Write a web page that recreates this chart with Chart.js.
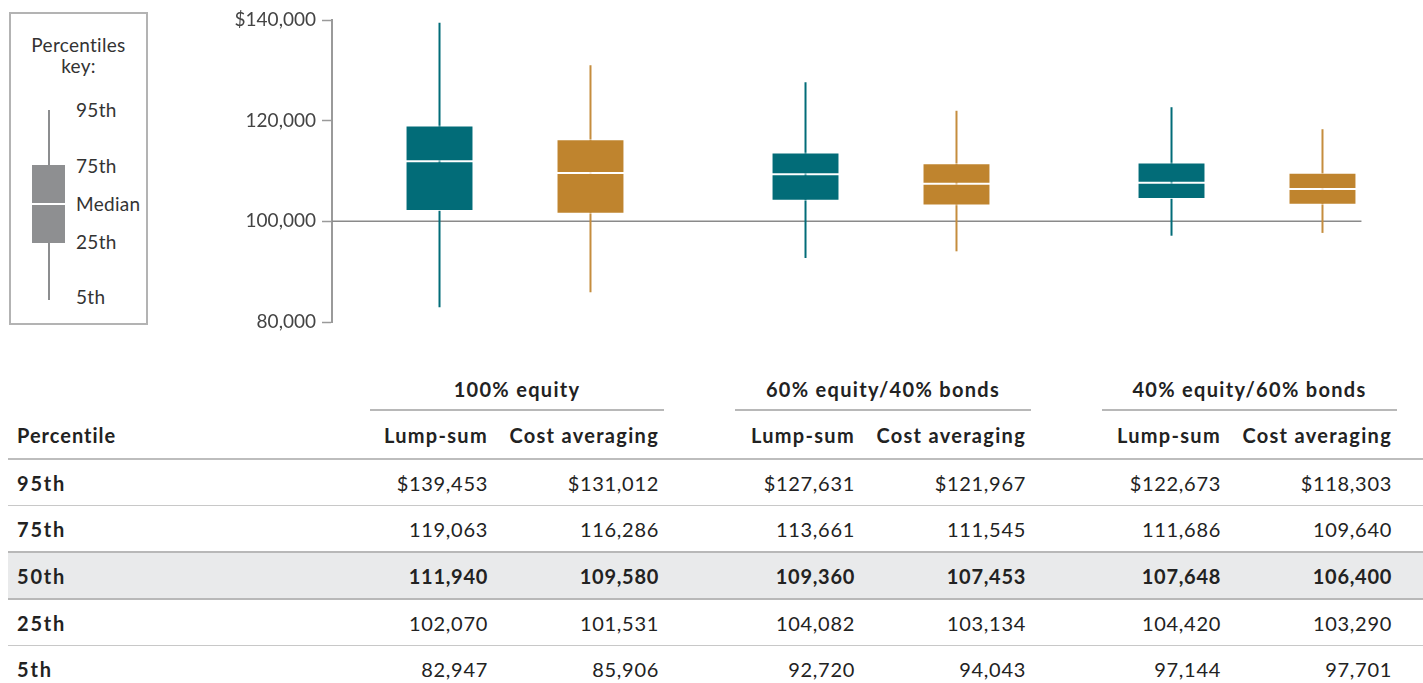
<!DOCTYPE html>
<html>
<head>
<meta charset="utf-8">
<script src="https://cdn.jsdelivr.net/npm/chart.js@4.4.1/dist/chart.umd.min.js"></script>
<style>
  body { margin: 0; width: 1423px; height: 683px; overflow: hidden; background: #fff; font-family: Lato, "Noto Sans", sans-serif; color: #222; position: relative; }
  #key { position: absolute; left: 9px; top: 12px; width: 139px; height: 313px; box-sizing: border-box; border: 2px solid #b3b3b3; }
  #key .title { position: absolute; left: 0; right: 0; top: 20px; text-align: center; font-size: 19px; line-height: 21px; color: #333; letter-spacing: 0.3px; }
  #key .lbl { position: absolute; left: 65px; font-size: 19px; line-height: 20px; color: #333; letter-spacing: 0.3px; }
  #key .whisk { position: absolute; left: 37px; top: 96px; width: 2px; height: 190px; background: #8c8d8f; }
  #key .box { position: absolute; left: 21px; top: 151px; width: 33px; height: 78px; background: #8e8f91; }
  #key .med { position: absolute; left: 21px; top: 189px; width: 33px; height: 2px; background: #fff; }
  #chartWrap { position: absolute; left: 200px; top: 0; width: 1230px; height: 340px; }
  table { position: absolute; left: 8px; top: 369px; border-collapse: collapse; table-layout: fixed; font-size: 20px; }
  td { padding: 0; white-space: nowrap; letter-spacing: 0.7px; }
  .num { text-align: right; }
  .grp td { height: 43px; vertical-align: top; }
  .grp .g { font-weight: 700; text-align: center; letter-spacing: 1.3px; }
  .grp .g div { border-bottom: 2px solid #b8b8b8; height: 40px; line-height: 40px; }
  .hdr td { height: 46px; font-weight: 700; border-bottom: 2px solid #bdbdbd; letter-spacing: 1.3px; }
  .row td { height: 45px; border-bottom: 1px solid #c8c8c8; }
  .row td:first-child { font-weight: 700; padding-left: 9px; letter-spacing: 1.8px; }
  .hdr td:first-child { padding-left: 9px; letter-spacing: 1px; }
  .mid td { background: #e9eaeb; font-weight: 700; border-bottom: 2px solid #b8b8b8; }
  .midtop td { border-bottom: 2px solid #b8b8b8; }
  .last td { border-bottom: none; }
  .pr { padding-right: 5px !important; }
</style>
</head>
<body>
<div id="key">
  <div class="title">Percentiles<br>key:</div>
  <div class="whisk"></div>
  <div class="box"></div>
  <div class="med"></div>
  <div class="lbl" style="top:86px">95th</div>
  <div class="lbl" style="top:142px">75th</div>
  <div class="lbl" style="top:180px">Median</div>
  <div class="lbl" style="top:218px">25th</div>
  <div class="lbl" style="top:273px">5th</div>
</div>
<div id="chartWrap"><canvas id="boxChart"></canvas></div>
<table id="tbl">
  <colgroup>
    <col style="width:362px"><col style="width:118px"><col style="width:176px"><col style="width:71px">
    <col style="width:120px"><col style="width:176px"><col style="width:71px">
    <col style="width:119px"><col style="width:176px"><col style="width:26px">
  </colgroup>
  <tbody id="tbody"></tbody>
</table>
<script>
const groups = ['100% equity', '60% equity/40% bonds', '40% equity/60% bonds'];
const seriesNames = ['Lump-sum', 'Cost averaging'];
const percentileNames = ['95th', '75th', '50th', '25th', '5th'];

const lumpP95 = [139453, 127631, 122673];
const lumpP75 = [119063, 113661, 111686];
const lumpP50 = [111940, 109360, 107648];
const lumpP25 = [102070, 104082, 104420];
const lumpP5  = [82947, 92720, 97144];

const costP95 = [131012, 121967, 118303];
const costP75 = [116286, 111545, 109640];
const costP50 = [109580, 107453, 106400];
const costP25 = [101531, 103134, 103290];
const costP5  = [85906, 94043, 97701];

const yTicks = [80000, 100000, 120000, 140000];
const baseValue = 100000;

const teal = '#026c78';
const gold = '#bf842e';

// ---- table ----
const fmt = v => v.toLocaleString('en-US');
const tbody = document.getElementById('tbody');
let html = '<tr class="grp"><td></td>';
groups.forEach(g => {
  html += '<td colspan="2" class="g"><div>' + g + '</div></td><td></td>';
});
html += '</tr><tr class="hdr"><td>Percentile</td>';
groups.forEach(() => {
  html += '<td class="num">' + seriesNames[0] + '</td><td class="num pr">' + seriesNames[1] + '</td><td></td>';
});
html += '</tr>';
const lumpRows = [lumpP95, lumpP75, lumpP50, lumpP25, lumpP5];
const costRows = [costP95, costP75, costP50, costP25, costP5];
percentileNames.forEach((p, r) => {
  let cls = 'row';
  if (r === 1) cls += ' midtop';
  if (r === 2) cls += ' mid';
  if (r === 4) cls += ' last';
  html += '<tr class="' + cls + '"><td>' + p + '</td>';
  groups.forEach((g, i) => {
    const pre = r === 0 ? '$' : '';
    html += '<td class="num">' + pre + fmt(lumpRows[r][i]) + '</td><td class="num pr">' + pre + fmt(costRows[r][i]) + '</td><td></td>';
  });
  html += '</tr>';
});
tbody.innerHTML = html;

// ---- chart ----
const pairs = (a, b) => a.map((v, i) => [v, b[i]]);

// 100,000 reference line, stops just past the last box
const baseline = {
  id: 'baseline',
  beforeDatasetsDraw(chart) {
    const { ctx, chartArea, scales } = chart;
    const py = scales.y.getPixelForValue(baseValue);
    const meta = chart.getDatasetMeta(3);
    const last = meta.data[meta.data.length - 1];
    const right = last.x + last.width / 2 + 5;
    ctx.save();
    ctx.strokeStyle = '#8a8a8a';
    ctx.lineWidth = 1.5;
    ctx.beginPath();
    ctx.moveTo(chartArea.left, py);
    ctx.lineTo(right, py);
    ctx.stroke();
    ctx.restore();
  }
};

const boxStyle = {
  borderColor: 'rgba(255,255,255,0.8)',
  borderWidth: 1,
  borderSkipped: false,
  order: 1
};

new Chart(document.getElementById('boxChart'), {
  type: 'bar',
  data: {
    labels: groups,
    datasets: [
      { label: 'Lump-sum low', data: pairs(lumpP25, lumpP50), stack: 'lump', backgroundColor: teal, ...boxStyle },
      { label: 'Lump-sum high', data: pairs(lumpP50, lumpP75), stack: 'lump', backgroundColor: teal, ...boxStyle },
      { label: 'Cost low', data: pairs(costP25, costP50), stack: 'cost', backgroundColor: gold, ...boxStyle },
      { label: 'Cost high', data: pairs(costP50, costP75), stack: 'cost', backgroundColor: gold, ...boxStyle },
      { label: 'Lump-sum range', data: pairs(lumpP5, lumpP95), stack: 'lump', backgroundColor: teal, maxBarThickness: 2, order: 2 },
      { label: 'Cost range', data: pairs(costP5, costP95), stack: 'cost', backgroundColor: '#c58d3e', maxBarThickness: 2, order: 2 }
    ]
  },
  options: {
    responsive: true,
    maintainAspectRatio: false,
    animation: false,
    datasets: { bar: { categoryPercentage: 0.825, barPercentage: 0.45 } },
    layout: { padding: { top: 20, bottom: 18, left: 0, right: 0 } },
    scales: {
      x: { stacked: true, display: false },
      y: {
        stacked: false,
        min: 80000,
        max: 140000,
        afterBuildTicks: s => { s.ticks = yTicks.map(v => ({ value: v })); },
        afterFit: s => { s.width = 132; },
        border: { color: '#9a9a9a', width: 2 },
        grid: { drawOnChartArea: false, tickLength: 10, tickColor: '#9a9a9a', tickWidth: 1.5 },
        ticks: {
          padding: 6,
          color: '#444',
          font: { family: 'Lato', size: 19 },
          callback: v => (v === 140000 ? '$' : '') + v.toLocaleString('en-US')
        }
      }
    },
    plugins: { legend: { display: false }, tooltip: { enabled: false } }
  },
  plugins: [baseline]
});
</script>
</body>
</html>
